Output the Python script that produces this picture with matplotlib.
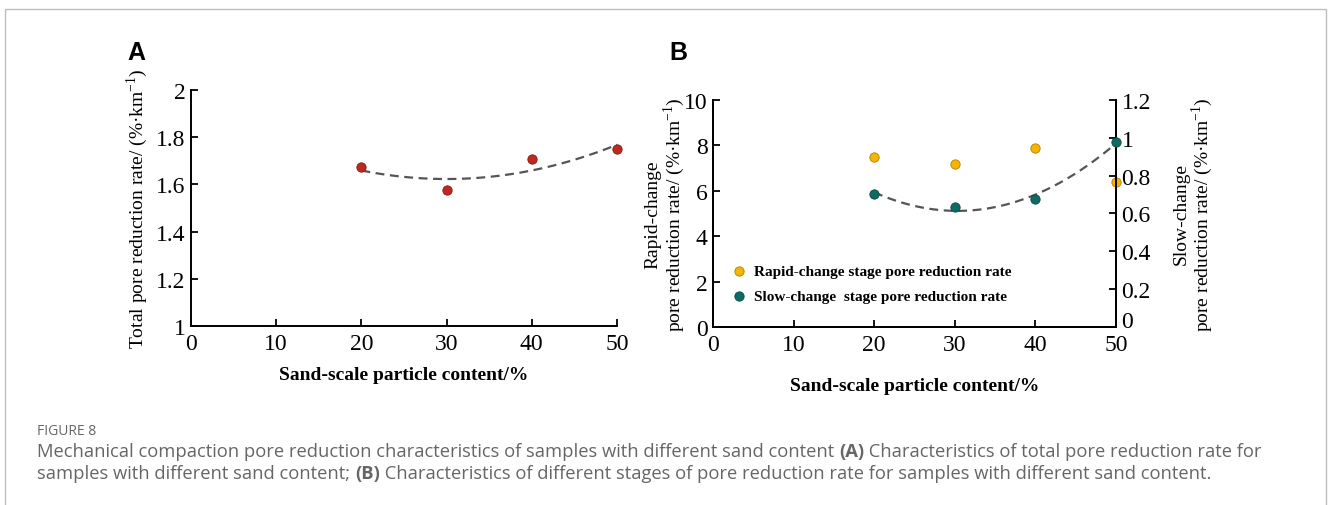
import matplotlib
matplotlib.use('Agg')
import matplotlib.pyplot as plt
import numpy as np
from matplotlib.patches import Rectangle

plt.rcParams['font.family'] = ['Liberation Serif', 'DejaVu Serif']
plt.rcParams['mathtext.fontset'] = 'custom'
plt.rcParams['mathtext.rm'] = 'Liberation Serif'
plt.rcParams['mathtext.bf'] = 'Liberation Serif:bold'

# data
sand = [20, 30, 40, 50]
total_rate = [1.675, 1.575, 1.707, 1.752]
rapid_rate = [7.5, 7.2, 7.9, 6.4]
slow_rate = [0.705, 0.636, 0.678, 0.978]
x_ticks = [0, 10, 20, 30, 40, 50]
a_ticks = [1, 1.2, 1.4, 1.6, 1.8, 2]
a_labels = ['1', '1.2', '1.4', '1.6', '1.8', '2']
b_left_ticks = [0, 2, 4, 6, 8, 10]
b_right_ticks = [0, 0.2, 0.4, 0.6, 0.8, 1.0, 1.2]
b_right_labels = ['0', '0.2', '0.4', '0.6', '0.8', '1', '1.2']

W, H = 1328, 506
fig = plt.figure(figsize=(W / 100, H / 100), dpi=100)

def box(l, t, r, b):
    return [l / W, 1 - b / H, (r - l) / W, (b - t) / H]

tick_fs = 17
lab_fs = 14

def style(ax):
    ax.tick_params(direction='in', length=5, width=1.3, labelsize=tick_fs, pad=4)
    ax.tick_params(axis='x', pad=5)
    for s in ax.spines.values():
        s.set_linewidth(1.4)
    ax.set_xlim(0, 50)
    ax.set_xticks(x_ticks)

def trend(ax, x, y):
    c = np.polyfit(x, y, 2)
    xx = np.linspace(min(x), max(x), 100)
    ax.plot(xx, np.polyval(c, xx), ls=(0, (4, 2.5)), color='#555555', lw=1.6, zorder=2)

# ---- panel A
axA = fig.add_axes(box(191, 91, 617, 327))
style(axA)
axA.spines['top'].set_visible(False)
axA.spines['right'].set_visible(False)
axA.set_ylim(1, 2)
axA.set_yticks(a_ticks)
axA.set_yticklabels(a_labels)
trend(axA, sand, total_rate)
axA.scatter(sand, total_rate, s=45, color='#c0281e', edgecolor='#7a1a14', lw=0.6, zorder=3, clip_on=False)
axA.set_xlabel('Sand-scale particle content/%', fontsize=lab_fs, fontweight='bold', labelpad=9)
axA.set_ylabel('Total pore reduction rate/ (%·km$^{-1}$)', fontsize=lab_fs, labelpad=4)

# ---- panel B
axB = fig.add_axes(box(713, 101, 1116, 328))
style(axB)
axB.spines['top'].set_visible(False)
axB.set_ylim(0, 10)
axB.set_yticks(b_left_ticks)
axB2 = axB.twinx()
style(axB2)
axB2.spines['top'].set_visible(False)
axB2.set_ylim(0, 1.2)
axB2.set_yticks(b_right_ticks)
axB2.set_yticklabels(b_right_labels)
axB2.get_yticklabels()[0].set_va('baseline')  # the 0 sits a little higher, above the 50
trend(axB2, sand, slow_rate)
h1 = axB.scatter(sand, rapid_rate, s=45, color='#f5b400', edgecolor='#b08000', lw=0.6, zorder=3, clip_on=False,
                 label='Rapid-change stage pore reduction rate')
h2 = axB2.scatter(sand, slow_rate, s=45, color='#0e6b63', edgecolor='#0a4a44', lw=0.6, zorder=3, clip_on=False,
                  label='Slow-change  stage pore reduction rate')
axB.set_xlabel('Sand-scale particle content/%', fontsize=lab_fs, fontweight='bold', labelpad=16)
axB.set_ylabel('Rapid-change\npore reduction rate/ (%·km$^{-1}$)', fontsize=lab_fs,
               labelpad=-2, linespacing=0.95)
axB2.set_ylabel('Slow-change\npore reduction rate/ (%·km$^{-1}$)', fontsize=lab_fs,
                labelpad=16, linespacing=0.95)
axB2.legend(handles=[h1, h2], loc='lower left', bbox_to_anchor=(0.0, 0.06), frameon=False,
            prop={'family': 'Liberation Serif', 'weight': 'bold', 'size': 11},
            handletextpad=0.0, labelspacing=0.75, borderaxespad=0.3)

# panel letters
fig.text(127 / W, 1 - 53 / H, 'A', fontsize=18, fontweight='bold', family='Liberation Sans', va='center')
fig.text(669 / W, 1 - 53 / H, 'B', fontsize=18, fontweight='bold', family='Liberation Sans', va='center')

# caption
cap_color = '#666666'
cfont = 'Open Sans'
cap_fs = 13.25
fig.text(37 / W, 1 - 432 / H, 'FIGURE 8', fontsize=10, color=cap_color, family=cfont, va='center')

def caption_line(y, parts):
    t = fig.text(37 / W, 1 - y / H, parts[0][0], fontsize=cap_fs, color=cap_color, family=cfont,
                 fontweight=parts[0][1], va='baseline')
    for s, w in parts[1:]:
        t = axA.annotate(s, xy=(1, 0), xycoords=t, va='bottom', ha='left', fontsize=cap_fs,
                         color=cap_color, family=cfont, fontweight=w, annotation_clip=False)

caption_line(457, [('Mechanical compaction pore reduction characteristics of samples with different sand content ', 'normal'),
                   ('(A)', 'bold'),
                   (' Characteristics of total pore reduction rate for', 'normal')])
caption_line(479, [('samples with different sand content; ', 'normal'),
                   ('(B)', 'bold'),
                   (' Characteristics of different stages of pore reduction rate for samples with different sand content.', 'normal')])

# frame around figure
fig.add_artist(Rectangle((4.5 / W, -0.1), (1321 / W), 1 - 9.5 / H + 0.1, transform=fig.transFigure,
                         fill=False, edgecolor='#bdbdbd', lw=1))

fig.savefig('out.png', dpi=100)
